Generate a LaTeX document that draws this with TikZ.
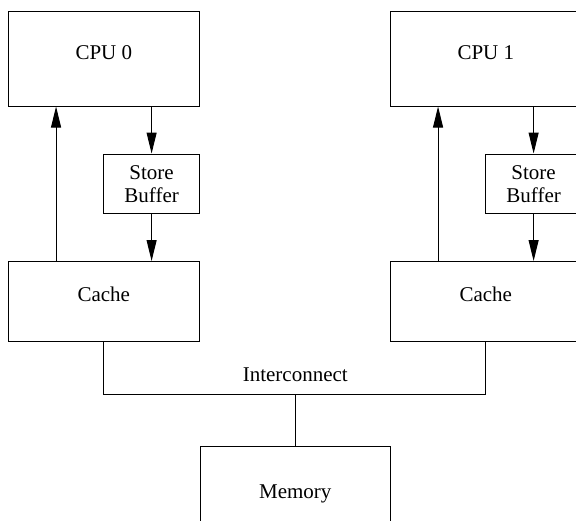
\documentclass[tikz,border=0pt]{standalone}
\usepackage{fontspec}
\setmainfont{Liberation Serif}
\usetikzlibrary{positioning, arrows.meta}
\tikzset{
>={Triangle[length=10.5pt, width=5pt]}, % long, narrow filled arrow heads
every node/.style={font=\fontsize{10.5}{11.5}\selectfont}, % text size for every label
box/.style={draw, rectangle, inner sep=0pt}, % plain outlined block
cpu/.style={box, minimum width=95.5pt, minimum height=47.5pt}, % large blocks (CPU, memory)
buffer/.style={box, minimum width=47.7pt, minimum height=29.9pt, align=center}, % store buffer
cache/.style={box, minimum width=95.5pt, minimum height=39.75pt}, % cache block
}

\begin{document}
\begin{tikzpicture}[line width=0.5pt]
        \useasboundingbox (0,0) rectangle (288pt,-260pt);

        \node[cpu, label={[yshift=2.75pt]center:CPU 0}] (cpu0) at (51.9pt,-29.25pt) {};
        \node[cpu, right=95pt of cpu0, label={[yshift=2.75pt]center:CPU 1}] (cpu1) {};

        \node[buffer, below=23.5pt of cpu0.south east, anchor=north east] (sb0) {Store\\Buffer};
        \node[buffer, below=23.5pt of cpu1.south east, anchor=north east] (sb1) {Store\\Buffer};

        \node[cache, below=77.25pt of cpu0, label={[yshift=3.6pt]center:Cache}] (cache0) {};
        \node[cache, below=77.25pt of cpu1, label={[yshift=3.6pt]center:Cache}] (cache1) {};

        \node[cpu, minimum width=95pt, below right=52.35pt and 0pt of cache0.south east] (memory) {Memory};
        \coordinate[above=26.1pt of memory.north] (bus);
        \node (interconnect) at ([yshift=9.75pt]bus) {Interconnect};

        \foreach \i in {0,1} {
            \draw[->] ([xshift=-23.875pt]cache\i.north) -- ([xshift=-23.875pt]cpu\i.south);
            \draw[->] (cpu\i.south -| sb\i.north) -- (sb\i.north);
            \draw[->] (sb\i.south) -- (sb\i.south |- cache\i.north);
        }

        \draw (cache0.south) |- (bus) -| (cache1.south);
        \draw (memory.north) -- (bus);
    \end{tikzpicture}
\end{document}
